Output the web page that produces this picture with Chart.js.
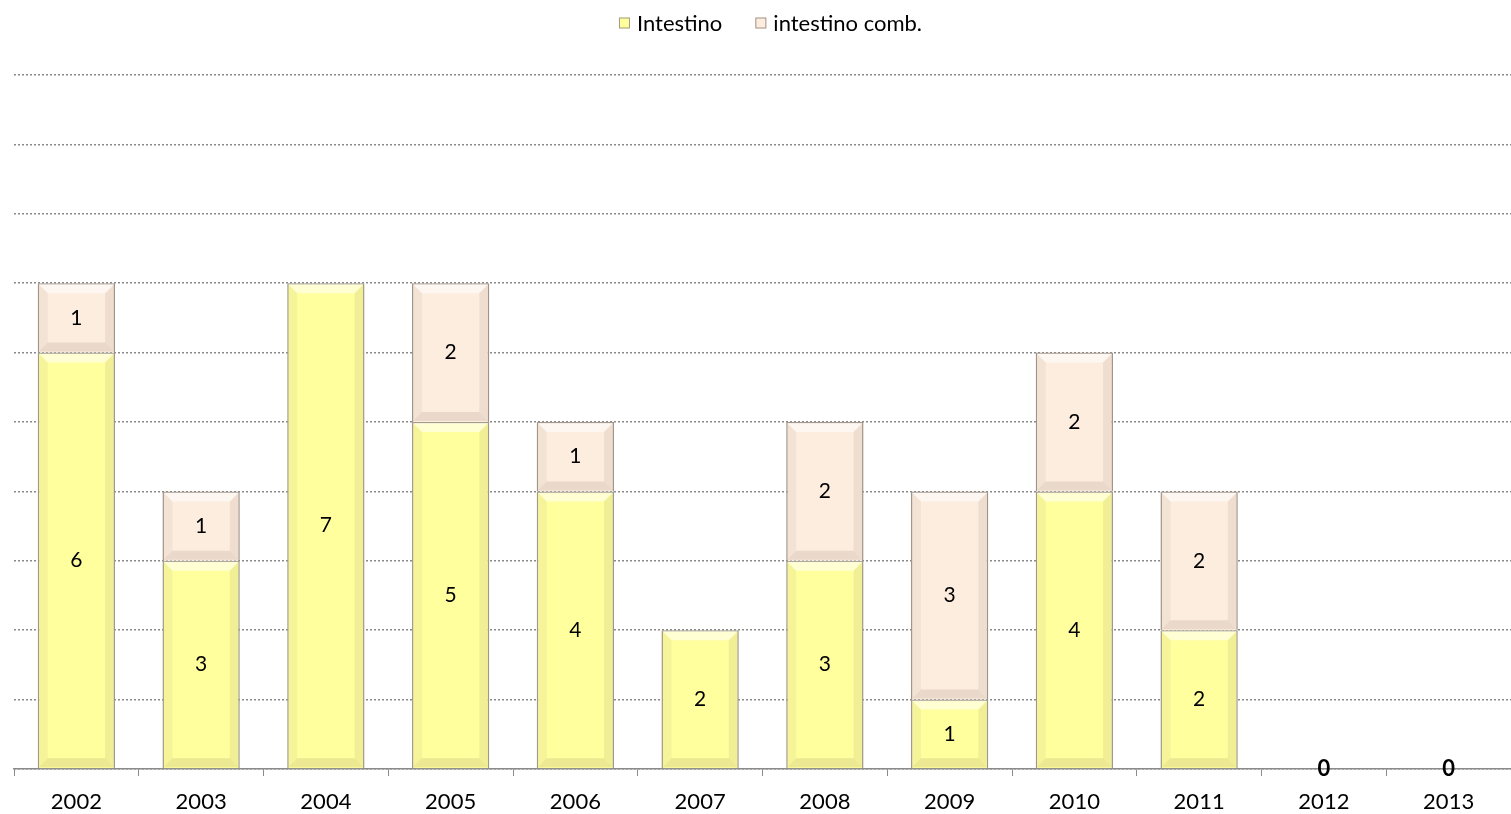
<!DOCTYPE html>
<html>
<head>
<meta charset="utf-8">
<script src="https://cdn.jsdelivr.net/npm/chart.js@4/dist/chart.umd.min.js"></script>
<style>
  html, body { margin: 0; padding: 0; background: #fff; }
  #wrap { width: 1511px; height: 814px; position: relative; }
</style>
</head>
<body>
<div id="wrap"><canvas id="chart"></canvas></div>
<script>
const years = ['2002', '2003', '2004', '2005', '2006', '2007', '2008', '2009', '2010', '2011', '2012', '2013'];
const intestino = [6, 3, 7, 5, 4, 2, 3, 1, 4, 2, 0, 0];
const intestinoComb = [1, 1, 0, 2, 1, 0, 2, 3, 2, 2, 0, 0];

const FONT = "Lato, 'Open Sans', sans-serif";

// effetto rilievo sulle barre
const bevel = {
    id: 'bevel',
    afterDatasetsDraw(chart) {
        const c = chart.ctx;
        c.save();
        chart.data.datasets.forEach((ds, i) => {
            chart.getDatasetMeta(i).data.forEach((bar, j) => {
                if (!ds.data[j]) return;
                const l = bar.x - bar.width / 2 + 1, r = bar.x + bar.width / 2 - 1;
                const t = bar.y + 1, b = bar.base - 1;
                const d = Math.min(9, (b - t) / 2);
                const poly = (pts, col) => {
                    c.beginPath();
                    c.moveTo(pts[0][0], pts[0][1]);
                    pts.slice(1).forEach(p => c.lineTo(p[0], p[1]));
                    c.closePath();
                    c.fillStyle = col;
                    c.fill();
                };
                poly([[l, t], [r, t], [r - d, t + d], [l + d, t + d]], 'rgba(255,255,255,0.55)');
                poly([[l, t], [l + d, t + d], [l + d, b - d], [l, b]], 'rgba(120,100,80,0.07)');
                poly([[r, t], [r - d, t + d], [r - d, b - d], [r, b]], 'rgba(120,100,80,0.10)');
                poly([[l, b], [l + d, b - d], [r - d, b - d], [r, b]], 'rgba(120,100,80,0.14)');
            });
        });
        c.restore();
    }
};

// etichette dentro le barre
const valueLabels = {
    id: 'valueLabels',
    afterDatasetsDraw(chart) {
        const c = chart.ctx;
        c.save();
        c.textAlign = 'center';
        c.textBaseline = 'middle';
        c.fillStyle = '#000';
        chart.data.datasets.forEach((ds, i) => {
            chart.getDatasetMeta(i).data.forEach((bar, j) => {
                const v = ds.data[j];
                if (v === 0) {
                    if (i === 0 && intestino[j] === 0 && intestinoComb[j] === 0) {
                        c.font = 'bold 22px ' + FONT;
                        c.fillText('0', bar.x, bar.y);
                    }
                    return;
                }
                c.font = '21px ' + FONT;
                c.fillText(String(v), bar.x, (bar.y + bar.base) / 2);
            });
        });
        c.restore();
    }
};

// legenda in alto
const topLegend = {
    id: 'topLegend',
    afterDraw(chart) {
        const c = chart.ctx;
        const area = chart.chartArea;
        c.save();
        c.font = '22px ' + FONT;
        c.textBaseline = 'middle';
        const box = 11, gapBox = 7, gapItem = 33;
        const items = chart.data.datasets.map(ds => ({ text: ds.label, fill: ds.backgroundColor, stroke: ds.borderColor, w: c.measureText(ds.label).width }));
        let total = 0;
        items.forEach((it, k) => { total += box + gapBox + it.w + (k ? gapItem : 0); });
        let x = (area.left + area.right) / 2 - total / 2 + 8;
        const y = 23;
        items.forEach(it => {
            c.fillStyle = it.fill;
            c.fillRect(x, y - box / 2, box, box);
            c.strokeStyle = it.stroke;
            c.lineWidth = 1;
            c.strokeRect(x + 0.5, y - box / 2 + 0.5, box - 1, box - 1);
            c.fillStyle = '#000';
            c.fillText(it.text, x + box + gapBox, y + 1);
            x += box + gapBox + it.w + gapItem;
        });
        c.restore();
    }
};

new Chart(document.getElementById('chart').getContext('2d'), {
    type: 'bar',
    data: {
        labels: years,
        datasets: [
            {
                label: 'Intestino',
                data: intestino,
                backgroundColor: '#FFFF9E',
                borderColor: '#A39B86',
                borderWidth: 1.5
            },
            {
                label: 'intestino comb.',
                data: intestinoComb,
                backgroundColor: '#FDEDDF',
                borderColor: '#A3958A',
                borderWidth: 1.5
            }
        ]
    },
    options: {
        responsive: true,
        maintainAspectRatio: false,
        animation: false,
        layout: { padding: { left: 14, right: 0, top: 75, bottom: 0 } },
        datasets: { bar: { categoryPercentage: 1, barPercentage: 0.62 } },
        plugins: {
            legend: { display: false },
            tooltip: { enabled: false }
        },
        scales: {
            x: {
                stacked: true,
                afterFit: scale => { scale.height = 45; },
                grid: {
                    drawOnChartArea: false,
                    drawTicks: true,
                    tickLength: 7,
                    color: '#8a8a8a',
                    offset: true
                },
                border: { display: true, color: '#8a8a8a', width: 1.5 },
                ticks: {
                    color: '#000',
                    padding: 13,
                    font: { family: FONT, size: 22 }
                }
            },
            y: {
                stacked: true,
                min: 0,
                max: 10,
                ticks: { display: false, stepSize: 1 },
                grid: { color: '#8a8a8a', lineWidth: 1.5, drawTicks: false },
                border: { display: false, dash: [2, 2] }
            }
        }
    },
    plugins: [bevel, valueLabels, topLegend]
});
</script>
</body>
</html>
